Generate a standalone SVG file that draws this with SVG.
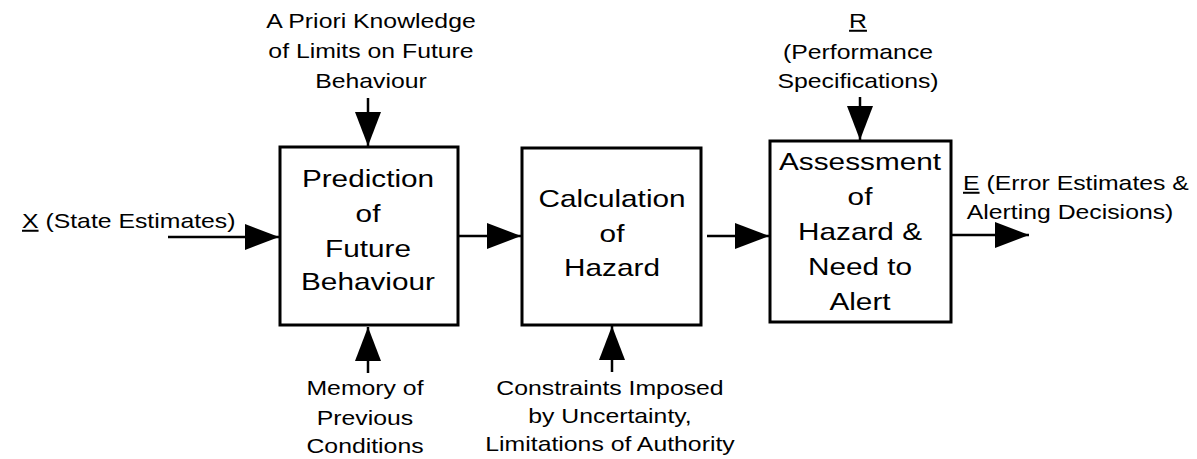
<svg xmlns="http://www.w3.org/2000/svg" width="1197" height="459" viewBox="0 0 1197 459">
<style>
text{font-family:"Liberation Sans",Arial,Helvetica,sans-serif;fill:#000}
.box{fill:#fff;stroke:#000;stroke-width:3}
.big{font-size:24px}
.sm{font-size:20px}
.conn{stroke:#000;stroke-width:2.5;fill:none}
.u{text-decoration:underline}
</style>
<defs>
<marker id="ah" markerUnits="userSpaceOnUse" markerWidth="34" markerHeight="26" refX="34" refY="13" orient="auto">
<path d="M0,0 L34,13 L0,26 Z" fill="#000"/>
</marker>
</defs>
<rect width="1197" height="459" fill="#fff"/>
<g id="connectors">
<line class="conn" x1="168" y1="237" x2="279" y2="237" marker-end="url(#ah)"/>
<line class="conn" x1="458" y1="236" x2="521" y2="236" marker-end="url(#ah)"/>
<line class="conn" x1="707" y1="236" x2="769" y2="236" marker-end="url(#ah)"/>
<line class="conn" x1="951" y1="235" x2="1029" y2="235" marker-end="url(#ah)"/>
<line class="conn" x1="368" y1="98" x2="368" y2="146" marker-end="url(#ah)"/>
<line class="conn" x1="860" y1="97" x2="860" y2="140" marker-end="url(#ah)"/>
<line class="conn" x1="368" y1="373" x2="368" y2="327" marker-end="url(#ah)"/>
<line class="conn" x1="612" y1="372" x2="612" y2="326" marker-end="url(#ah)"/>
</g>
<g id="prediction">
<rect class="box" x="280" y="147" width="178" height="178"/>
<text class="big" text-anchor="middle" transform="translate(368,0) scale(1.24,1)"><tspan x="0" y="187">Prediction</tspan><tspan x="0" y="222">of</tspan><tspan x="0" y="257">Future</tspan><tspan x="0" y="290">Behaviour</tspan></text>
</g>
<g id="calculation">
<rect class="box" x="522" y="148" width="179" height="177"/>
<text class="big" text-anchor="middle" transform="translate(612,0) scale(1.24,1)"><tspan x="0" y="207">Calculation</tspan><tspan x="0" y="242">of</tspan><tspan x="0" y="276">Hazard</tspan></text>
</g>
<g id="assessment">
<rect class="box" x="770" y="141" width="181" height="181"/>
<text class="big" text-anchor="middle" transform="translate(860,0) scale(1.24,1)"><tspan x="0" y="170">Assessment</tspan><tspan x="0" y="205">of</tspan><tspan x="0" y="240">Hazard &amp;</tspan><tspan x="0" y="275">Need to</tspan><tspan x="0" y="310">Alert</tspan></text>
</g>
<g id="input-x">
<text class="sm" transform="translate(22,0) scale(1.24,1)"><tspan x="0" y="228"><tspan class="u">X</tspan> (State Estimates)</tspan></text>
</g>
<g id="apriori">
<text class="sm" text-anchor="middle" transform="translate(371,0) scale(1.24,1)"><tspan x="0" y="28">A Priori Knowledge</tspan><tspan x="0" y="58">of Limits on Future</tspan><tspan x="0" y="88">Behaviour</tspan></text>
</g>
<g id="memory">
<text class="sm" text-anchor="middle" transform="translate(365,0) scale(1.24,1)"><tspan x="0" y="395">Memory of</tspan><tspan x="0" y="425">Previous</tspan><tspan x="0" y="453">Conditions</tspan></text>
</g>
<g id="constraints">
<text class="sm" text-anchor="middle" transform="translate(610,0) scale(1.24,1)"><tspan x="0" y="395">Constraints Imposed</tspan><tspan x="0" y="423">by Uncertainty,</tspan><tspan x="0" y="451">Limitations of Authority</tspan></text>
</g>
<g id="perf-r">
<text class="sm" text-anchor="middle" transform="translate(858,0) scale(1.24,1)"><tspan x="0" y="28" class="u">R</tspan><tspan x="0" y="59">(Performance</tspan><tspan x="0" y="88">Specifications)</tspan></text>
</g>
<g id="output-e">
<text class="sm" transform="translate(963,0) scale(1.24,1)"><tspan x="0" y="190"><tspan class="u">E</tspan> (Error Estimates &amp;</tspan><tspan x="3" y="219">Alerting Decisions)</tspan></text>
</g>
</svg>
